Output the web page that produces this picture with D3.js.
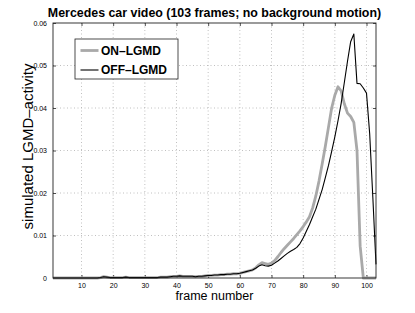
<!DOCTYPE html>
<html>
<head>
<meta charset="utf-8">
<script src="https://cdn.jsdelivr.net/npm/d3@7"></script>
<style>
  body { margin: 0; background: #fff; }
  svg { font-family: "Liberation Sans", Arial, sans-serif; }
</style>
</head>
<body>
<div id="chart"></div>
<script>
// frame numbers 1..103
var frames = d3.range(1, 104);

// OFF-LGMD (black)
var offLgmd = [
  0, 0, 0, 0, 0, 0, 0, 0, 0, 0,
  0, 0, 0, 0, 0, 0.0001, 0.0003, 0.0002, 0.0001, 0.0001,
  0.0001, 0.0001, 0.0001, 0.0002, 0.0001, 0.0001, 0.0001, 0.0001, 0.0001, 0.0001,
  0.0001, 0.0001, 0.0001, 0.0001, 0.0002, 0.0002, 0.0002, 0.0003, 0.0004, 0.0004,
  0.0005, 0.0004, 0.0004, 0.0004, 0.0004, 0.0003, 0.0004, 0.0004, 0.0005, 0.0006,
  0.0006, 0.0007, 0.0007, 0.0008, 0.0008, 0.0009, 0.0009, 0.0010, 0.0010, 0.0011,
  0.0013, 0.0015, 0.0017, 0.0019, 0.0023, 0.0028, 0.0031, 0.0029, 0.0028, 0.0030,
  0.0035, 0.0040, 0.0046, 0.0052, 0.0058, 0.0063, 0.0067, 0.0072, 0.0081, 0.0094,
  0.0110, 0.0126, 0.0144, 0.0162, 0.0185, 0.0208, 0.0236, 0.0265, 0.0298, 0.0332,
  0.0370, 0.0411, 0.0460, 0.0510, 0.0556, 0.0574, 0.0458, 0.0457, 0.0447, 0.0435,
  0.0340, 0.0190, 0.0032
];

// ON-LGMD (gray)
var onLgmd = [
  0, 0, 0, 0, 0, 0, 0, 0, 0, 0,
  0, 0, 0, 0, 0, 0.0001, 0.0003, 0.0002, 0.0001, 0.0001,
  0.0001, 0.0001, 0.0001, 0.0002, 0.0001, 0.0001, 0.0001, 0.0001, 0.0001, 0.0001,
  0.0001, 0.0001, 0.0001, 0.0001, 0.0002, 0.0002, 0.0002, 0.0003, 0.0004, 0.0004,
  0.0005, 0.0004, 0.0004, 0.0004, 0.0004, 0.0003, 0.0004, 0.0004, 0.0005, 0.0006,
  0.0006, 0.0007, 0.0007, 0.0008, 0.0008, 0.0009, 0.0009, 0.0010, 0.0010, 0.0011,
  0.0013, 0.0015, 0.0017, 0.0019, 0.0024, 0.0031, 0.0036, 0.0034, 0.0032, 0.0035,
  0.0041, 0.0050, 0.0060, 0.0069, 0.0077, 0.0085, 0.0093, 0.0102, 0.0111, 0.0121,
  0.0132, 0.0144, 0.0165, 0.0193, 0.0228, 0.0268, 0.0310, 0.0355, 0.0400, 0.0430,
  0.0450, 0.0440, 0.0410, 0.0388, 0.0380, 0.0366, 0.0300, 0.0075, 0, 0,
  0, 0, 0
];

var xTicks = [10, 20, 30, 40, 50, 60, 70, 80, 90, 100];
var yTicks = [0, 0.01, 0.02, 0.03, 0.04, 0.05, 0.06];
var seriesNames = ["ON\u2013LGMD", "OFF\u2013LGMD"];

var svgWidth = 415;
var svgHeight = 313;
var margin = { top: 23, right: 39, bottom: 35, left: 53 };
var chartWidth = svgWidth - margin.left - margin.right;
var chartHeight = svgHeight - margin.top - margin.bottom;

var svg = d3.select("#chart")
  .append("svg")
  .attr("width", svgWidth)
  .attr("height", svgHeight);

var chartGroup = svg.append("g")
  .attr("transform", `translate(${margin.left}, ${margin.top})`);

var xScale = d3.scaleLinear().domain([1, 103]).range([0, chartWidth]);
var yScale = d3.scaleLinear().domain([0, 0.06]).range([chartHeight, 0]);

// dotted grid
chartGroup.selectAll(".vgrid")
  .data(xTicks)
  .enter()
  .append("line")
    .attr("x1", d => xScale(d)).attr("x2", d => xScale(d))
    .attr("y1", 0).attr("y2", chartHeight)
    .attr("stroke", "#b0b0b0")
    .attr("stroke-width", 0.8)
    .attr("stroke-dasharray", "1,2.5");

chartGroup.selectAll(".hgrid")
  .data(yTicks.slice(1, -1))
  .enter()
  .append("line")
    .attr("x1", 0).attr("x2", chartWidth)
    .attr("y1", d => yScale(d)).attr("y2", d => yScale(d))
    .attr("stroke", "#b0b0b0")
    .attr("stroke-width", 0.8)
    .attr("stroke-dasharray", "1,2.5");

// axes, matlab-ish (ticks inside, on every side)
function styleAxis(g) {
  g.select(".domain").remove();
  g.selectAll(".tick line").attr("stroke", "#222").attr("stroke-width", 0.8);
  g.selectAll(".tick text").attr("font-size", "7px").attr("fill", "#000");
}

chartGroup.append("g")
  .attr("transform", `translate(0, ${chartHeight})`)
  .call(d3.axisBottom(xScale).tickValues(xTicks).tickSize(-3).tickPadding(5))
  .call(styleAxis);

chartGroup.append("g")
  .call(d3.axisTop(xScale).tickValues(xTicks).tickSize(-3).tickFormat(""))
  .call(styleAxis);

chartGroup.append("g")
  .call(d3.axisLeft(yScale).tickValues(yTicks).tickSize(-3).tickPadding(6)
    .tickFormat(d => d === 0 ? "0" : d3.format(".2f")(d)))
  .call(styleAxis);

chartGroup.append("g")
  .attr("transform", `translate(${chartWidth}, 0)`)
  .call(d3.axisRight(yScale).tickValues(yTicks).tickSize(-3).tickFormat(""))
  .call(styleAxis);

// lines
var line = d3.line()
  .x((d, i) => xScale(frames[i]))
  .y(d => yScale(d));

chartGroup.append("path")
  .datum(onLgmd)
  .attr("fill", "none")
  .attr("stroke", "#a9a9a9")
  .attr("stroke-width", 2.8)
  .attr("stroke-linejoin", "round")
  .attr("d", line);

chartGroup.append("path")
  .datum(offLgmd)
  .attr("fill", "none")
  .attr("stroke", "#000")
  .attr("stroke-width", 1.1)
  .attr("stroke-linejoin", "round")
  .attr("d", line);

// box
chartGroup.append("rect")
  .attr("width", chartWidth)
  .attr("height", chartHeight)
  .attr("fill", "none")
  .attr("stroke", "#222")
  .attr("stroke-width", 0.9);

// legend
var legend = svg.append("g").attr("transform", "translate(75, 39)");
legend.append("rect")
  .attr("width", 103).attr("height", 40)
  .attr("fill", "#fff").attr("stroke", "#222").attr("stroke-width", 0.8);
var legendColors = ["#a9a9a9", "#000"];
var legendWidths = [2.8, 1.1];
seriesNames.forEach(function(name, i) {
  var y = 11.5 + i * 19.5;
  legend.append("line")
    .attr("x1", 5.5).attr("x2", 23.5)
    .attr("y1", y).attr("y2", y)
    .attr("stroke", legendColors[i]).attr("stroke-width", legendWidths[i]);
  legend.append("text")
    .attr("x", 26).attr("y", y)
    .attr("dy", "0.36em")
    .attr("font-size", "12px")
    .attr("font-weight", "bold")
    .text(name);
});

// title and axis labels
svg.append("text")
  .attr("x", margin.left + chartWidth / 2)
  .attr("y", 17)
  .attr("text-anchor", "middle")
  .attr("font-size", "12.4px")
  .attr("font-weight", "bold")
  .text("Mercedes car video (103 frames; no background motion)");

svg.append("text")
  .attr("x", margin.left + chartWidth / 2)
  .attr("y", 299.5)
  .attr("text-anchor", "middle")
  .attr("font-size", "12.5px")
  .text("frame number");

svg.append("text")
  .attr("transform", `translate(33, ${margin.top + chartHeight / 2 - 4}) rotate(-90)`)
  .attr("text-anchor", "middle")
  .attr("font-size", "15px")
  .text("simulated LGMD\u2013activity");
</script>
</body>
</html>
